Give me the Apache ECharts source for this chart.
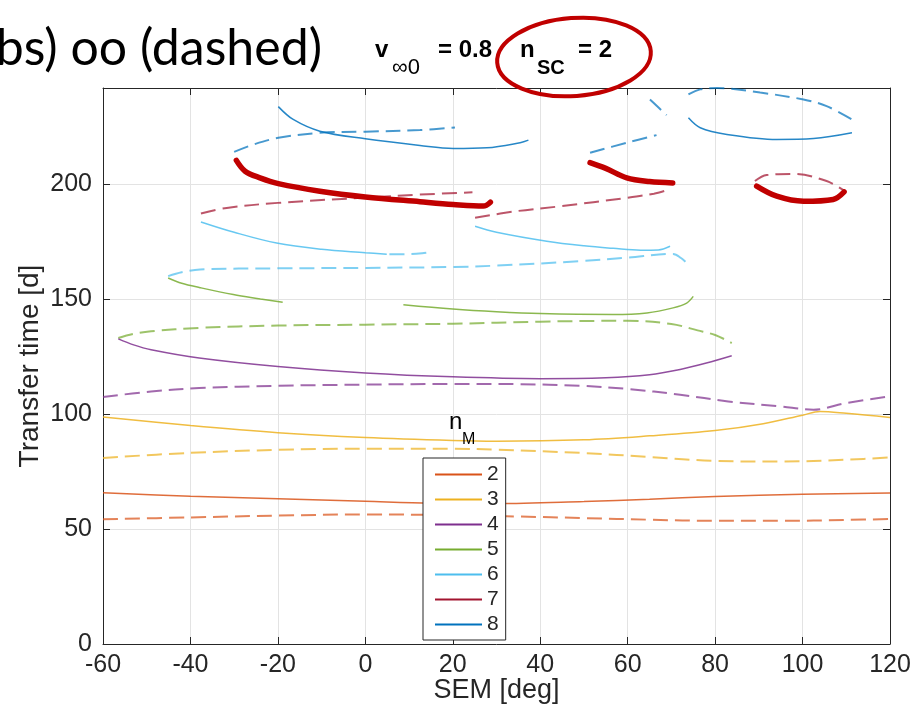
<!DOCTYPE html>
<html>
<head>
<meta charset="utf-8">
<script src="https://cdn.jsdelivr.net/npm/echarts@6/dist/echarts.min.js"></script>
<style>
  html, body { margin: 0; padding: 0; background: #fff; }
  #chart { width: 914px; height: 709px; }
</style>
</head>
<body>
<div id="chart"></div>
<script>
// Transfer time versus SEM angle, one colour per n_M.
// Solid pieces and dashed (oo) pieces of each family are stored separately.
const nM = [2, 3, 4, 5, 6, 7, 8];
const xTicks = [-60, -40, -20, 0, 20, 40, 60, 80, 100, 120];
const yTicks = [0, 50, 100, 150, 200];

const solid2 = [[-60,65.8],[-40,64.3],[-20,63.2],[0,62.1],[15,61.3],[30,61.1],[50,62],[65,63],[80,64.2],[100,65.2],[120,65.7]];
const dashed2 = [[-60,54.3],[-40,55.1],[-20,55.9],[0,56.4],[20,56.1],[35,55.5],[50,54.8],[65,54.1],[80,53.6],[95,53.6],[110,54],[120,54.4]];

const solid3 = [[-60,98.8],[-40,95.1],[-20,92],[0,89.9],[20,88.6],[30,88.3],[50,88.9],[65,90.6],[80,92.9],[91,95.9],[100,99.6],[104,101.2],[110,100.4],[120,98.6]];
const dashed3 = [[-60,81],[-40,83.2],[-20,84.5],[0,85],[20,85],[30,84.6],[50,83.1],[65,81.4],[80,79.7],[95,79.4],[110,80.2],[120,81.2]];

const solid4 = [[-56.5,132.8],[-53,130.2],[-49,128.1],[-38,124.5],[-20,120.8],[0,118],[20,116.3],[40,115.5],[55,115.9],[65,117.2],[72,119.5],[78,122.3],[83.8,125.5]];
const dashed4 = [[-60,107.5],[-49,109.9],[-38,111.4],[-20,112.4],[0,112.9],[20,113.2],[35,113.1],[49,112.4],[60,111],[72,108.5],[83,105.6],[95,103.4],[102.5,102],[110,104.9],[120,107.8]];

const solid5a = [[-45.1,159.3],[-42,157],[-37.8,155.1],[-30.2,152.1],[-24,150.2],[-18.9,148.7]];
const solid5b = [[8.7,147.7],[20,145.8],[30,144.6],[40,143.8],[56.7,143.4],[64.4,144.1],[70.4,146.3],[73.5,148.4],[75,151.3]];
const dashed5 = [[-56.5,133.2],[-53,135],[-49,136.1],[-38,137.6],[-20,138.6],[0,139],[20,139.4],[40,140.3],[60,140.7],[70,139.3],[76,136.5],[80,134.5],[83.8,131]];

const solid6a = [[-37.6,183.7],[-30,179.2],[-20.3,174.5],[-10,171.8],[0,170.3],[4.9,169.6]];
const solid6b = [[25.1,181.8],[30,179.2],[41.5,175.3],[50,173.3],[56.7,172.2],[63,171.4],[67,171.5],[69.7,173.1]];
const dashed6a = [[-45.1,160.1],[-42,161.8],[-37.8,163],[-20,163.5],[0,163.7],[20,164.1],[30,164.7],[49,166.6],[60,168.2],[70.4,169.8],[72.2,168],[74.3,164.5]];
const dashed6b = [[5.5,169.6],[10,169.7],[13,170.1],[15,170.6]];

const solid7a = [[-29.5,210.5],[-27.5,205.8],[-24.1,202.9],[-19.9,200.4],[-10.4,197.1],[0,194.6],[12.5,192.5],[20.1,191.3],[27,190.6],[28.6,192.3]];
const solid7b = [[51.4,209.5],[55,207],[59.8,202.9],[65,201.3],[70.3,200.7]];
const solid7c = [[89.5,199.3],[94.1,194.9],[100.2,192.7],[107,193.5],[109.5,196.8]];
const dashed7a = [[-37.6,187.4],[-31.7,189.8],[-20,192],[0,194.3],[12.5,195.6],[24.5,196.6]];
const dashed7b = [[25.1,185.5],[34.6,188.4],[44.5,190.5],[59.8,194.2],[66,196],[68.8,197.4]];
const dashed7c = [[89.1,201.5],[91.8,204.1],[97.9,204.6],[105.5,201.5],[109.7,197.1]];

const solid8a = [[-19.9,233.9],[-16.5,228.3],[-10.4,223.2],[0,219.9],[12.5,217],[20.1,215.7],[27.8,216],[35.4,218.2],[37.3,219.3]];
const solid8b = [[73.9,229],[76.6,224.7],[82.7,221.8],[94.1,219.6],[102.5,220],[111.3,222.5]];
const dashed8a = [[-30,214.2],[-25.6,217.4],[-19.9,220.3],[-10.4,222.5],[0,223],[12.5,223.7],[20.5,224.8]];
const dashed8b = [[51.4,213.8],[59.8,218.2],[66.6,221.5]];
const dashed8c = [[65.1,237],[68.9,230.2]];
const dashed8d = [[73.9,239.2],[76.6,241.4],[80.4,242],[90.3,240],[100.2,237],[105.5,234.1],[111.3,228.3]];

const solidPieces = {
  2: [solid2], 3: [solid3], 4: [solid4], 5: [solid5a, solid5b],
  6: [solid6a, solid6b], 7: [solid7a, solid7b, solid7c], 8: [solid8a, solid8b]
};
const dashedPieces = {
  2: [dashed2], 3: [dashed3], 4: [dashed4], 5: [dashed5],
  6: [dashed6a, dashed6b], 7: [dashed7a, dashed7b, dashed7c], 8: [dashed8a, dashed8b, dashed8c, dashed8d]
};
// pen strokes over the n_M = 7 solid branches
const highlighted = [solid7a, solid7b, solid7c];

const colors = {
  2: '#D95319', 3: '#EDB120', 4: '#7E2F8E', 5: '#77AC30',
  6: '#4DBEEE', 7: '#A2142F', 8: '#0072BD'
};

const series = [];
nM.forEach(n => {
  solidPieces[n].forEach(piece => {
    series.push({
      name: String(n), type: 'line', data: piece, smooth: 0.35,
      symbol: 'none', color: colors[n], z: 3,
      lineStyle: { width: 1.5, color: colors[n], opacity: 0.85 }
    });
  });
});
nM.forEach(n => {
  dashedPieces[n].forEach(piece => {
    series.push({
      name: n + ' oo', type: 'line', data: piece, smooth: 0.35,
      symbol: 'none', color: colors[n], z: 2,
      lineStyle: { width: 2, color: colors[n], opacity: 0.72, type: [15, 7] }
    });
  });
});
highlighted.forEach(piece => {
  series.push({
    name: 'pen', type: 'line', data: piece, smooth: 0.35, symbol: 'none',
    z: 5, silent: true,
    lineStyle: { width: 5.5, color: '#C00000', cap: 'round', join: 'round' }
  });
});

const axisColor = '#262626';
const font = 'Liberation Sans';
const frameAxis = {
  axisLine: { show: true, onZero: false, lineStyle: { color: axisColor, width: 1 } },
  axisTick: { show: true, inside: true, length: 7, lineStyle: { color: axisColor } },
  axisLabel: { show: false },
  splitLine: { show: false }
};

const chart = echarts.init(document.getElementById('chart'), null, { renderer: 'canvas' });
chart.setOption({
  animation: false,
  backgroundColor: '#fff',
  grid: { left: 103, right: 24, top: 88, bottom: 65, outerBoundsMode: 'none', containLabel: false },
  xAxis: [{
    type: 'value', min: -60, max: 120, interval: 20,
    name: 'SEM [deg]', nameLocation: 'middle', nameGap: 33, nameMoveOverlap: false,
    nameTextStyle: { fontSize: 27, color: axisColor, fontFamily: font },
    axisLine: { show: true, onZero: false, lineStyle: { color: axisColor, width: 1 } },
    axisTick: { inside: true, length: 7, lineStyle: { color: axisColor } },
    axisLabel: { fontSize: 25, color: axisColor, fontFamily: font, margin: 9,
      formatter: v => xTicks.includes(v) ? String(v) : '' },
    splitLine: { show: true, lineStyle: { color: '#e3e3e3', width: 1 } }
  }, Object.assign({ type: 'value', min: -60, max: 120, interval: 20, position: 'top' }, frameAxis)],
  yAxis: [{
    type: 'value', min: 0, max: 242, interval: 50,
    name: 'Transfer time [d]', nameLocation: 'middle', nameGap: 59, nameRotate: 90, nameMoveOverlap: false,
    nameTextStyle: { fontSize: 28, color: axisColor, fontFamily: font },
    axisLine: { show: true, onZero: false, lineStyle: { color: axisColor, width: 1 } },
    axisTick: { show: true, inside: true, length: 7, lineStyle: { color: axisColor } },
    axisLabel: { fontSize: 25, color: axisColor, fontFamily: font, margin: 11,
      formatter: v => yTicks.includes(v) ? String(v) : '' },
    splitLine: { show: true, lineStyle: { color: '#e3e3e3', width: 1 } }
  }, Object.assign({ type: 'value', min: 0, max: 242, interval: 50, position: 'right' }, frameAxis)],
  legend: {
    data: nM.map(String),
    orient: 'vertical', left: 423, top: 458,
    icon: 'rect', itemWidth: 47, itemHeight: 2, itemGap: 4,
    padding: [6, 7, 5, 12],
    backgroundColor: '#fff', borderColor: axisColor, borderWidth: 1, borderRadius: 0,
    textStyle: { fontSize: 21, lineHeight: 20, color: axisColor, fontFamily: font },
    selectedMode: false
  },
  graphic: [
    { type: 'text', x: 322, y: 49, z: 10,
      style: { text: 'bs) oo (dashed)', font: '50px Lato', fill: '#000', align: 'right', verticalAlign: 'middle' } },
    { type: 'text', x: 375, y: 62, z: 10,
      style: { text: 'v', font: 'bold 24px Liberation Sans', fill: '#000', verticalAlign: 'bottom' } },
    { type: 'text', x: 392, y: 79, z: 10,
      style: { text: '\u221e0', font: '22px Liberation Sans', fill: '#000', verticalAlign: 'bottom' } },
    { type: 'text', x: 438, y: 62, z: 10,
      style: { text: '= 0.8', font: 'bold 24px Liberation Sans', fill: '#000', verticalAlign: 'bottom' } },
    { type: 'text', x: 520, y: 62, z: 10,
      style: { text: 'n', font: 'bold 24px Liberation Sans', fill: '#000', verticalAlign: 'bottom' } },
    { type: 'text', x: 537, y: 78, z: 10,
      style: { text: 'SC', font: 'bold 20px Liberation Sans', fill: '#000', verticalAlign: 'bottom' } },
    { type: 'text', x: 578, y: 62, z: 10,
      style: { text: '= 2', font: 'bold 24px Liberation Sans', fill: '#000', verticalAlign: 'bottom' } },
    { type: 'ellipse', x: 574, y: 57, rotation: 0.075, z: 20,
      shape: { cx: 0, cy: 0, rx: 77, ry: 39 },
      style: { fill: 'none', stroke: '#C00000', lineWidth: 4 } },
    { type: 'text', x: 449, y: 434, z: 10,
      style: { text: 'n', font: '24px Liberation Sans', fill: '#000', verticalAlign: 'bottom' } },
    { type: 'text', x: 462, y: 448, z: 10,
      style: { text: 'M', font: '16px Liberation Sans', fill: '#000', verticalAlign: 'bottom' } }
  ],
  series: series
});
</script>
</body>
</html>
